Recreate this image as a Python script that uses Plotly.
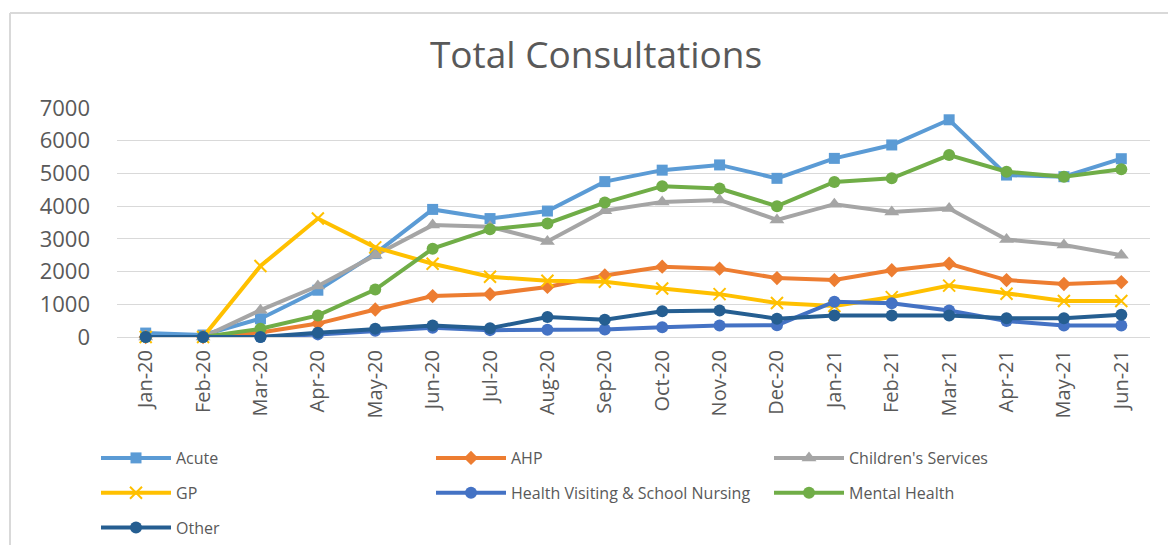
import plotly.graph_objects as go

months = ["Jan-20", "Feb-20", "Mar-20", "Apr-20", "May-20", "Jun-20", "Jul-20", "Aug-20",
          "Sep-20", "Oct-20", "Nov-20", "Dec-20", "Jan-21", "Feb-21", "Mar-21", "Apr-21",
          "May-21", "Jun-21"]

acute = [120, 60, 560, 1430, 2550, 3900, 3620, 3850, 4750, 5100, 5260, 4850, 5460, 5870, 6640, 4950, 4900, 5450]
ahp = [0, 0, 140, 410, 840, 1250, 1310, 1530, 1880, 2150, 2090, 1800, 1740, 2040, 2240, 1740, 1620, 1680]
childrens = [0, 0, 820, 1560, 2500, 3420, 3370, 2920, 3860, 4130, 4190, 3580, 4060, 3820, 3930, 2980, 2810, 2500]
gp = [0, 0, 2170, 3620, 2740, 2240, 1840, 1720, 1690, 1480, 1310, 1040, 950, 1220, 1570, 1320, 1100, 1100]
hv = [0, 0, 0, 80, 190, 280, 210, 220, 230, 300, 350, 360, 1080, 1030, 810, 490, 350, 350]
mental = [0, 0, 250, 660, 1450, 2700, 3290, 3470, 4110, 4610, 4540, 4000, 4740, 4850, 5560, 5050, 4900, 5130]
other = [0, 0, 0, 130, 250, 350, 270, 610, 530, 790, 810, 560, 660, 660, 660, 570, 570, 680]

series = [
    ("Acute", acute, "#5B9BD5", dict(symbol="square", size=11), "legend"),
    ("AHP", ahp, "#ED7D31", dict(symbol="diamond", size=11), "legend2"),
    ("Children's Services", childrens, "#A5A5A5", dict(symbol="triangle-up", size=13), "legend3"),
    ("GP", gp, "#FFC000", dict(symbol="x-thin", size=12, line=dict(width=2, color="#FFC000")), "legend"),
    ("Health Visiting & School Nursing", hv, "#4472C4", dict(symbol="circle", size=12), "legend2"),
    ("Mental Health", mental, "#70AD47", dict(symbol="circle", size=12), "legend3"),
    ("Other", other, "#255E91", dict(symbol="circle", size=12), "legend"),
]

fig = go.Figure()
for name, vals, color, marker, leg in series:
    m = dict(color=color)
    m.update(marker)
    fig.add_trace(go.Scatter(
        x=months, y=vals, name=name, mode="lines+markers",
        line=dict(color=color, width=4), marker=m,
        legend=leg, legendgroup=name, cliponaxis=False,
    ))

GRAY = "#595959"
W, H = 1168, 545
L, R, T, B = 117, 18, 108, 208
pw = W - L - R
ph = H - T - B


def px_x(px):
    return (px - L) / pw


def px_y(py):
    return (H - B - py) / ph


legend_common = dict(
    orientation="v", xanchor="left", yanchor="top", xref="container", yref="container",
    font=dict(family="Open Sans", size=16, color=GRAY),
    itemwidth=70, tracegroupgap=11, bgcolor="rgba(0,0,0,0)",
)

LEG_TOP = 441
fig.update_layout(
    template="none",
    width=W, height=H,
    margin=dict(l=L, r=R, t=T, b=B, autoexpand=False),
    paper_bgcolor="white", plot_bgcolor="white",
    title=dict(text="Total Consultations", x=596 / W, xref="container", xanchor="center",
               y=1 - 55 / H, yref="container", yanchor="middle",
               font=dict(family="Open Sans", size=37, color=GRAY)),
    xaxis=dict(type="category", range=[-0.5, len(months) - 0.5], tickangle=-90,
               showgrid=False, showline=False, zeroline=False, ticks="", automargin=False,
               tickfont=dict(family="Open Sans", size=20, color=GRAY),
               ticklabelstandoff=8),
    yaxis=dict(range=[0, 7000], dtick=1000, showgrid=True, gridcolor="#D9D9D9", gridwidth=1,
               zeroline=True, zerolinecolor="#D9D9D9", zerolinewidth=1, showline=False, ticks="",
               automargin=False,
               tickfont=dict(family="Open Sans", size=22, color=GRAY),
               ticklabelstandoff=26),
    legend=dict(x=96 / W, y=1 - LEG_TOP / H, **legend_common),
    legend2=dict(x=431 / W, y=1 - LEG_TOP / H, **legend_common),
    legend3=dict(x=769 / W, y=1 - LEG_TOP / H, **legend_common),
    shapes=[
        dict(type="line", xref="paper", yref="paper", x0=px_x(10), x1=px_x(1200),
             y0=px_y(13), y1=px_y(13), line=dict(color="#D9D9D9", width=2)),
        dict(type="line", xref="paper", yref="paper", x0=px_x(10), x1=px_x(10),
             y0=px_y(13), y1=px_y(600), line=dict(color="#D9D9D9", width=2)),
    ],
    showlegend=True,
)

fig.write_html("out.html", config={"displayModeBar": False},
               post_script="document.body.style.margin='0';document.body.style.overflow='hidden';")
